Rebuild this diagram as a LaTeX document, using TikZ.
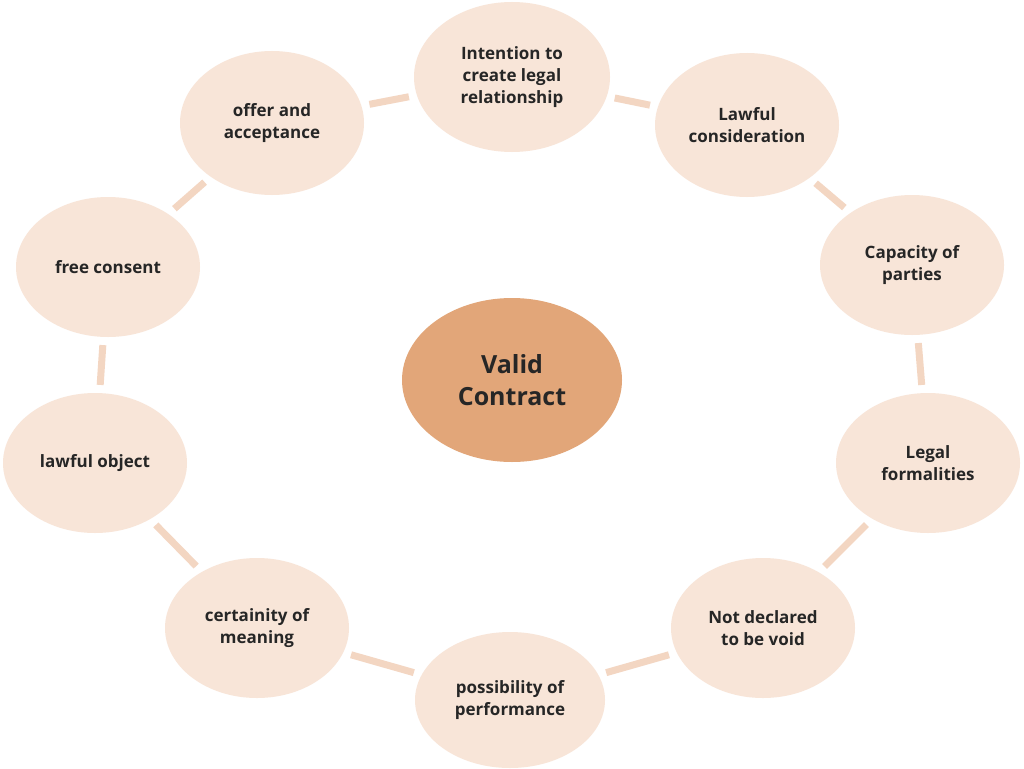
\documentclass[tikz,border=0pt]{standalone}
\usepackage{fontspec}
\setmainfont{Open Sans}
\begin{document}
\begin{tikzpicture}[x=1pt,y=-1pt,
  item/.style={ellipse,fill=itemfill,inner sep=0pt,align=center,font=\fontsize{17}{22}\selectfont\bfseries,text=black!85},
  link/.style={line width=7pt,draw=linkc,shorten >=8pt,shorten <=8pt}]
\usetikzlibrary{shapes.geometric}
\definecolor{itemfill}{HTML}{F8E5D8}
\definecolor{centerfill}{HTML}{E2A679}
\definecolor{linkc}{HTML}{F3D6C2}
\useasboundingbox[fill=white] (0,0) rectangle (1024,768);
\node[item,minimum width=196pt,minimum height=150pt] (a) at (512,77) {Intention to\\create legal\\relationship};
\node[item,minimum width=184pt,minimum height=144pt] (b) at (747,125) {Lawful\\consideration};
\node[item,minimum width=184pt,minimum height=140pt] (c) at (912,265) {Capacity of\\parties};
\node[item,minimum width=184pt,minimum height=140pt] (d) at (928,463) {Legal\\formalities};
\node[item,minimum width=184pt,minimum height=140pt] (e) at (763,628) {Not declared\\to be void};
\node[item,minimum width=190pt,minimum height=136pt] (f) at (510,700) {possibility of\\performance};
\node[item,minimum width=184pt,minimum height=140pt] (g) at (257,628) {certainity of\\meaning};
\node[item,minimum width=184pt,minimum height=140pt] (h) at (95,463) {lawful object};
\node[item,minimum width=184pt,minimum height=140pt] (i) at (108,267) {free consent};
\node[item,minimum width=184pt,minimum height=144pt] (j) at (272,123) {offer and\\acceptance};
\node[ellipse,fill=centerfill,minimum width=220pt,minimum height=164pt,align=center,font=\fontsize{25}{32}\selectfont\bfseries,text=black!85] (v) at (512,380) {Valid\\Contract};
\foreach \p/\q in {a/b,b/c,c/d,d/e,e/f,f/g,g/h,h/i,i/j,j/a}
  \draw[link] (\p) -- (\q);
\end{tikzpicture}
\end{document}
